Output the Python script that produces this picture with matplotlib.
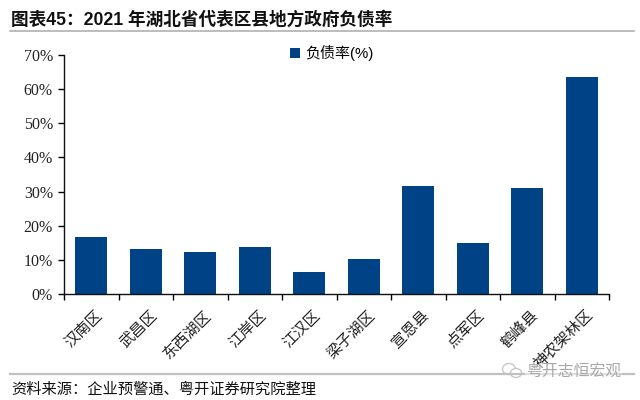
import matplotlib
matplotlib.use("Agg")
import matplotlib.pyplot as plt
from matplotlib.lines import Line2D
from matplotlib.patches import Ellipse
from matplotlib.transforms import ScaledTranslation

categories = ["汉南区", "武昌区", "东西湖区", "江岸区", "江汉区", "梁子湖区", "宣恩县", "点军区", "鹤峰县", "神农架林区"]
debt_ratio = [16.6, 13.1, 12.2, 13.7, 6.4, 10.2, 31.6, 14.9, 31.0, 63.6]
y_ticks = [0, 10, 20, 30, 40, 50, 60, 70]

title = "图表45：2021 年湖北省代表区县地方政府负债率"
source = "资料来源：企业预警通、粤开证券研究院整理"
watermark = "粤开志恒宏观"

W, H = 640, 400
BLUE = "#004286"
serif_cjk = ["Liberation Serif", "Noto Sans CJK SC"]
sans_cjk = ["Liberation Sans", "Noto Sans CJK SC"]

fig = plt.figure(figsize=(W / 100, H / 100), dpi=100)
ax = fig.add_axes([64 / W, 1 - 294 / H, 545 / W, 239 / H])

x = list(range(len(categories)))
bars = ax.bar(x, debt_ratio, width=0.585, color=BLUE, label="负债率(%)")

ax.set_xlim(-0.5, len(categories) - 0.5)
ax.set_ylim(0, 70)
ax.set_yticks(y_ticks)
ax.set_yticklabels([f"{v}%" for v in y_ticks], family=serif_cjk, fontsize=11.5, color="#222222")
ax.tick_params(axis="y", direction="out", length=4, width=1, pad=4)

# ticks sit between the categories, labels under the bars
ax.set_xticks([i - 0.5 for i in range(len(categories) + 1)])
ax.set_xticklabels([])
ax.tick_params(axis="x", which="major", direction="out", length=4, width=1)
ax.set_xticks(x, minor=True)
ax.set_xticklabels(categories, minor=True, rotation=45, ha="right", va="top",
                   rotation_mode="anchor", family=sans_cjk, fontsize=11, color="#222222")
ax.tick_params(axis="x", which="minor", length=0, pad=10)
shift = ScaledTranslation(4 / 100, 0, fig.dpi_scale_trans)
for label in ax.get_xticklabels(minor=True):
    label.set_transform(label.get_transform() + shift)

for side in ["top", "right"]:
    ax.spines[side].set_visible(False)
for side in ["left", "bottom"]:
    ax.spines[side].set_linewidth(1)
    ax.spines[side].set_color("#111111")

ax.legend(loc="upper center", bbox_to_anchor=(0.491, 1.098), frameon=False, handlelength=0.7,
          handleheight=0.7, handletextpad=0.3, prop={"family": sans_cjk, "size": 10.8})

fig.text(11 / W, 1 - 20 / H, title, family=sans_cjk, fontsize=12.7, fontweight="bold",
         va="center", color="#111111")
fig.text(11 / W, 1 - 390 / H, source, family=sans_cjk, fontsize=11, style="italic",
         va="center", color="#111111")

fig.add_artist(Line2D([10 / W, 634 / W], [1 - 31 / H, 1 - 31 / H], color="#b0b0b0", lw=1.2))
fig.add_artist(Line2D([10 / W, 634 / W], [1 - 374 / H, 1 - 374 / H], color="#c0c0c0", lw=1.6))

# wechat style watermark on top of the source rule
fig.add_artist(Ellipse((509 / W, 1 - 369 / H), 13 / W, 11 / H, fc="white", ec="#c8c8c8", lw=1))
fig.add_artist(Ellipse((516 / W, 1 - 373 / H), 11 / W, 9 / H, fc="white", ec="#c8c8c8", lw=1))
fig.text(526 / W, 1 - 372 / H, watermark, family=sans_cjk, fontsize=11.4, va="center",
         color="#a8a8a8", bbox=dict(fc="white", ec="none", alpha=0.5, pad=0.5))

fig.savefig("out.png", dpi=100)
